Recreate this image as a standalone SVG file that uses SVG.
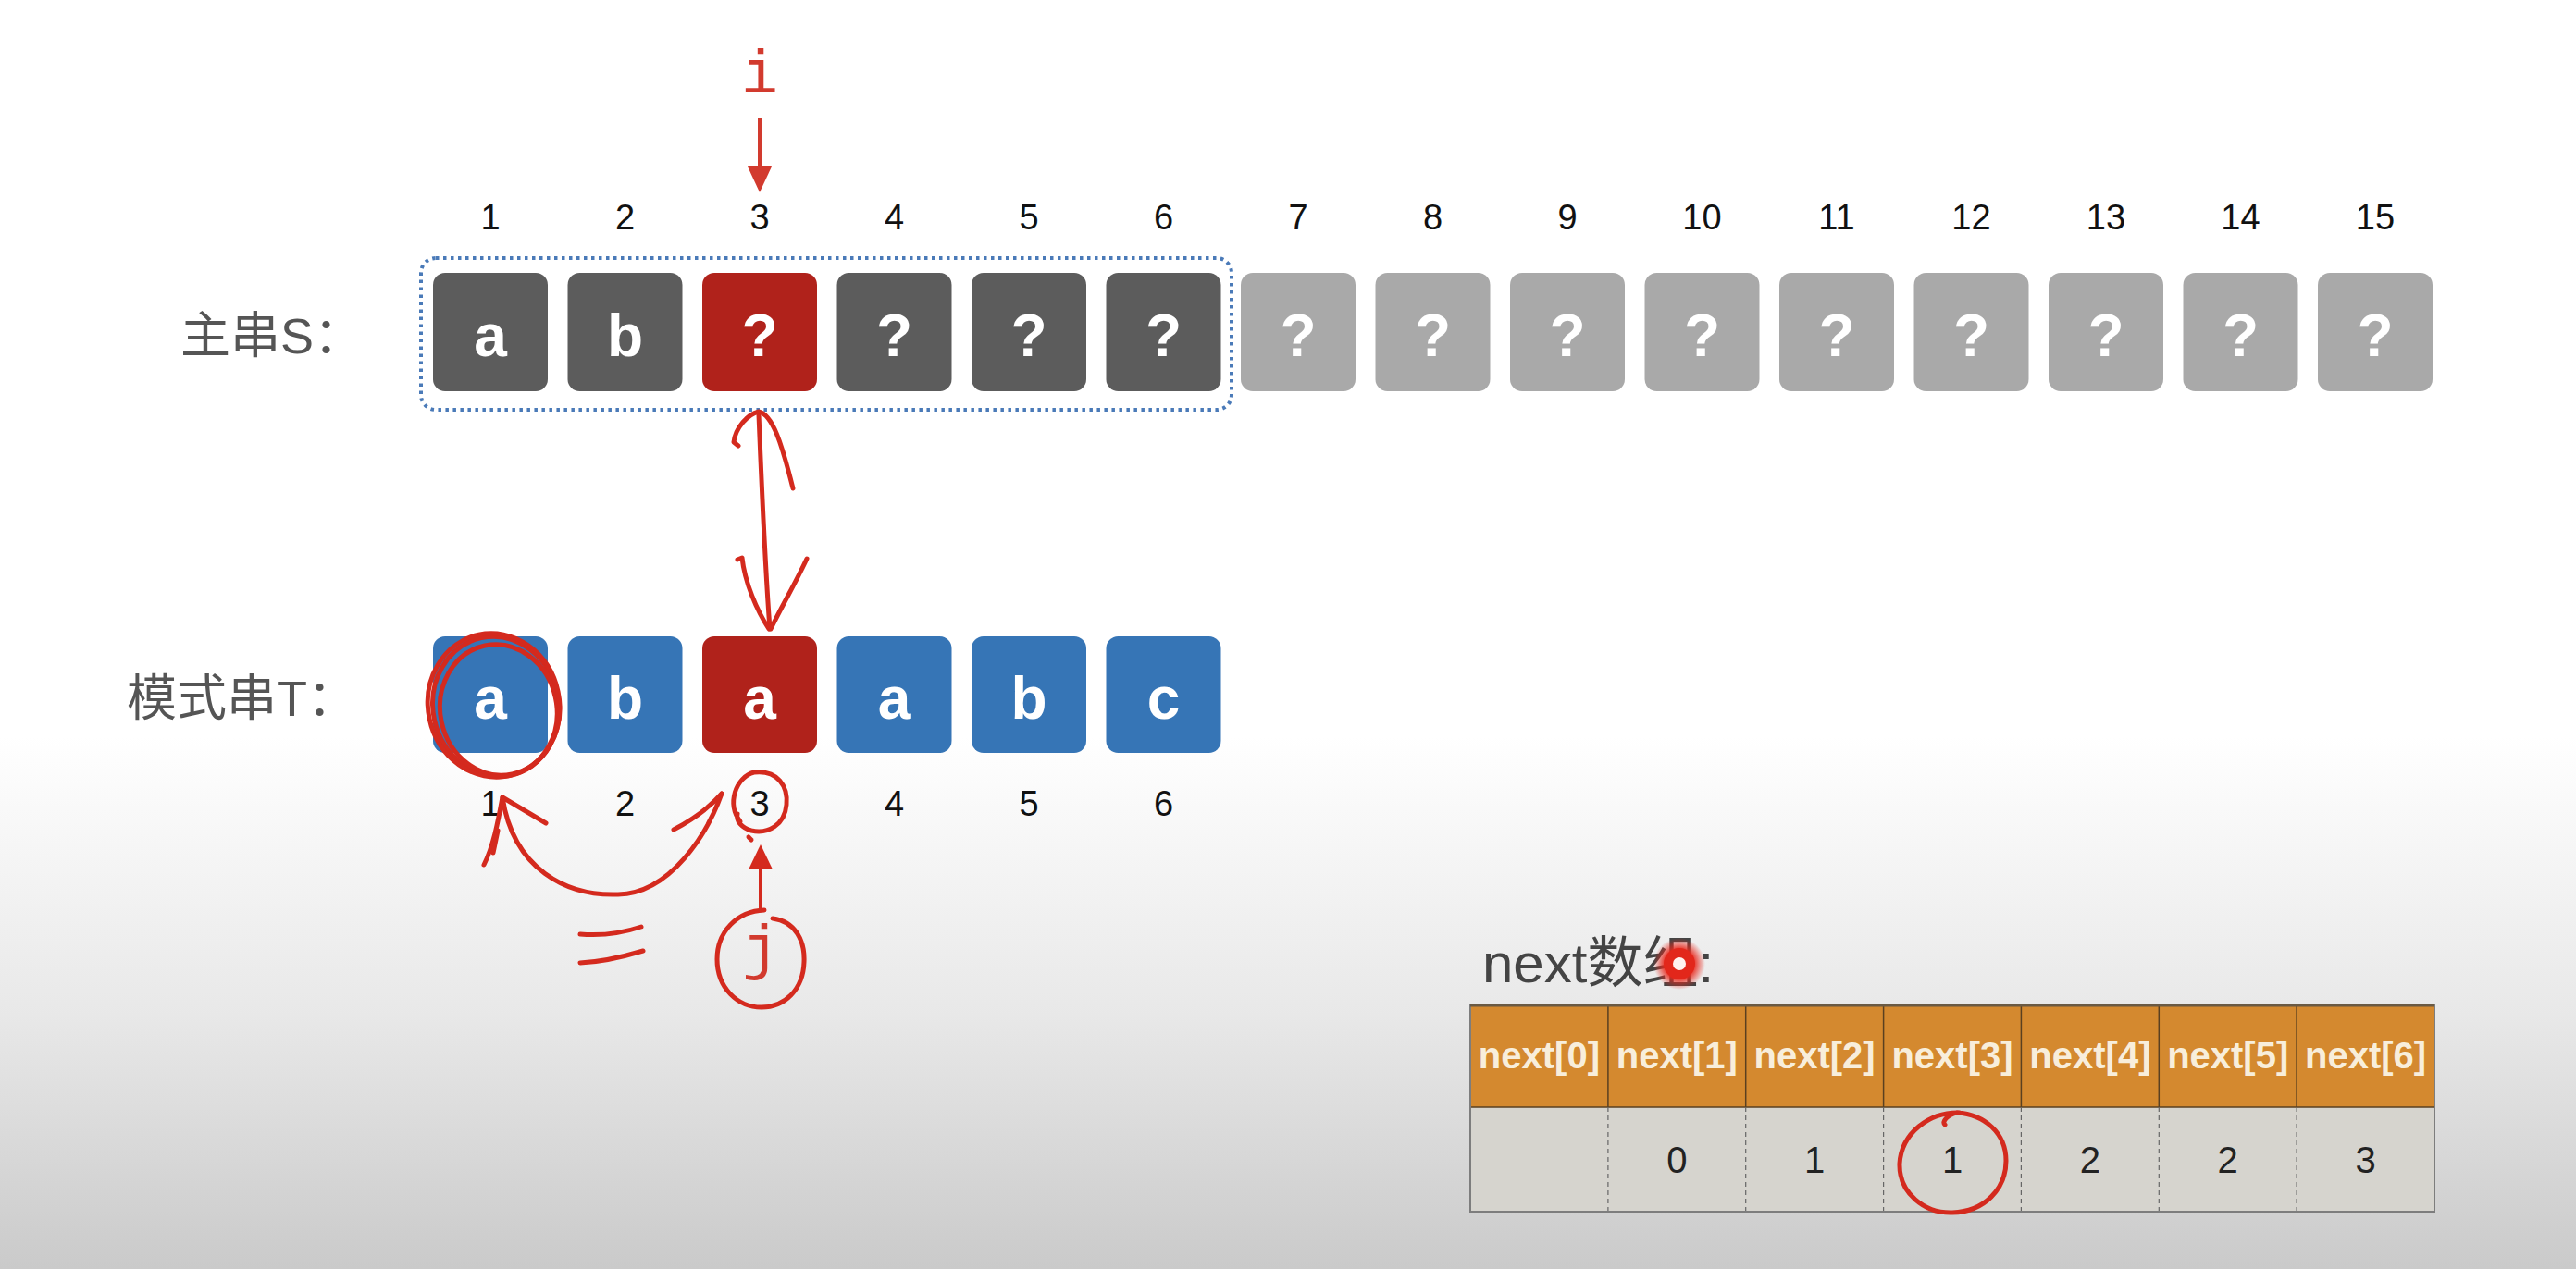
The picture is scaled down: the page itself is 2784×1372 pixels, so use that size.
<svg xmlns="http://www.w3.org/2000/svg" width="2784" height="1372" viewBox="0 0 2784 1372">
<defs>
<linearGradient id="bg" x1="0" y1="0" x2="0" y2="1372" gradientUnits="userSpaceOnUse">
<stop offset="0" stop-color="#ffffff"/>
<stop offset="0.58" stop-color="#ffffff"/>
<stop offset="0.8" stop-color="#e8e8e8"/>
<stop offset="1" stop-color="#cacaca"/>
</linearGradient>
<radialGradient id="glow">
<stop offset="0" stop-color="#e8281c" stop-opacity="1"/>
<stop offset="0.6" stop-color="#e8281c" stop-opacity="0.85"/>
<stop offset="1" stop-color="#e8281c" stop-opacity="0"/>
</radialGradient>
</defs>
<style>
.box{rx:13px;ry:13px}
.dk{fill:#5c5c5c}
.lt{fill:#a9a9a9}
.rd{fill:#b0221b}
.bl{fill:#3675b6}
.ch{font-family:"Liberation Sans",Arial,sans-serif;font-weight:bold;font-size:64px;fill:#ffffff;text-anchor:middle}
.num{font-family:"Liberation Sans",Arial,sans-serif;font-size:38px;fill:#111111;text-anchor:middle}
.lbl{font-family:"Liberation Sans","Noto Sans CJK SC",sans-serif;font-size:54px;fill:#555555}
.cap{font-family:"Liberation Sans","Noto Sans CJK SC",sans-serif;font-size:60px;fill:#444444}
.hd{font-family:"Liberation Sans",Arial,sans-serif;font-weight:bold;font-size:40px;fill:#f8eedb;text-anchor:middle}
.val{font-family:"Liberation Sans",Arial,sans-serif;font-size:40px;fill:#222222;text-anchor:middle}
.pen{fill:none;stroke:#d42a1e;stroke-width:5;stroke-linecap:round;stroke-linejoin:round}
.mono{font-family:"Liberation Mono","Courier New",monospace;font-size:66px;fill:#d23a2e;text-anchor:middle}
</style>
<rect x="0" y="0" width="2784" height="1372" fill="url(#bg)"/>

<!-- labels -->
<text id="label-S" class="lbl" x="195" y="382">主串S：</text>
<text id="label-T" class="lbl" x="137" y="774">模式串T：</text>

<!-- top index numbers -->
<g id="s-index">
<text class="num" x="530" y="248">1</text>
<text class="num" x="675.5" y="248">2</text>
<text class="num" x="821" y="248">3</text>
<text class="num" x="966.5" y="248">4</text>
<text class="num" x="1112" y="248">5</text>
<text class="num" x="1257.5" y="248">6</text>
<text class="num" x="1403" y="248">7</text>
<text class="num" x="1548.5" y="248">8</text>
<text class="num" x="1694" y="248">9</text>
<text class="num" x="1839.5" y="248">10</text>
<text class="num" x="1985" y="248">11</text>
<text class="num" x="2130.5" y="248">12</text>
<text class="num" x="2276" y="248">13</text>
<text class="num" x="2421.5" y="248">14</text>
<text class="num" x="2567" y="248">15</text>
</g>

<!-- main string S -->
<rect id="s-window" x="455" y="279" width="876" height="164" rx="16" fill="none" stroke="#4a7ab8" stroke-width="4" stroke-dasharray="3.5 4.5"/>
<g id="s1"><rect class="box dk" x="468" y="295" width="124" height="128"/><text class="ch" x="530" y="385">a</text></g>
<g id="s2"><rect class="box dk" x="613.5" y="295" width="124" height="128"/><text class="ch" x="675.5" y="385">b</text></g>
<g id="s3"><rect class="box rd" x="759" y="295" width="124" height="128"/><text class="ch" x="821" y="385">?</text></g>
<g id="s4"><rect class="box dk" x="904.5" y="295" width="124" height="128"/><text class="ch" x="966.5" y="385">?</text></g>
<g id="s5"><rect class="box dk" x="1050" y="295" width="124" height="128"/><text class="ch" x="1112" y="385">?</text></g>
<g id="s6"><rect class="box dk" x="1195.5" y="295" width="124" height="128"/><text class="ch" x="1257.5" y="385">?</text></g>
<g id="s7"><rect class="box lt" x="1341" y="295" width="124" height="128"/><text class="ch" x="1403" y="385">?</text></g>
<g id="s8"><rect class="box lt" x="1486.5" y="295" width="124" height="128"/><text class="ch" x="1548.5" y="385">?</text></g>
<g id="s9"><rect class="box lt" x="1632" y="295" width="124" height="128"/><text class="ch" x="1694" y="385">?</text></g>
<g id="s10"><rect class="box lt" x="1777.5" y="295" width="124" height="128"/><text class="ch" x="1839.5" y="385">?</text></g>
<g id="s11"><rect class="box lt" x="1923" y="295" width="124" height="128"/><text class="ch" x="1985" y="385">?</text></g>
<g id="s12"><rect class="box lt" x="2068.5" y="295" width="124" height="128"/><text class="ch" x="2130.5" y="385">?</text></g>
<g id="s13"><rect class="box lt" x="2214" y="295" width="124" height="128"/><text class="ch" x="2276" y="385">?</text></g>
<g id="s14"><rect class="box lt" x="2359.5" y="295" width="124" height="128"/><text class="ch" x="2421.5" y="385">?</text></g>
<g id="s15"><rect class="box lt" x="2505" y="295" width="124" height="128"/><text class="ch" x="2567" y="385">?</text></g>

<!-- pattern T -->
<g id="t1"><rect class="box bl" x="468" y="688" width="124" height="126"/><text class="ch" x="530" y="777">a</text></g>
<g id="t2"><rect class="box bl" x="613.5" y="688" width="124" height="126"/><text class="ch" x="675.5" y="777">b</text></g>
<g id="t3"><rect class="box rd" x="759" y="688" width="124" height="126"/><text class="ch" x="821" y="777">a</text></g>
<g id="t4"><rect class="box bl" x="904.5" y="688" width="124" height="126"/><text class="ch" x="966.5" y="777">a</text></g>
<g id="t5"><rect class="box bl" x="1050" y="688" width="124" height="126"/><text class="ch" x="1112" y="777">b</text></g>
<g id="t6"><rect class="box bl" x="1195.5" y="688" width="124" height="126"/><text class="ch" x="1257.5" y="777">c</text></g>

<g id="t-index">
<text class="num" x="530" y="882">1</text>
<text class="num" x="675.5" y="882">2</text>
<text class="num" x="821" y="882">3</text>
<text class="num" x="966.5" y="882">4</text>
<text class="num" x="1112" y="882">5</text>
<text class="num" x="1257.5" y="882">6</text>
</g>

<!-- next array -->
<g id="next-table">
<text class="cap" x="1602" y="1062">next数组:</text>
<rect x="1589" y="1087" width="1042" height="110" fill="#d4892f"/>
<rect x="1589" y="1197" width="1042" height="113" fill="#d6d4ce"/>
<g stroke="#5a4020" stroke-width="1.5">
<line x1="1737.9" y1="1087" x2="1737.9" y2="1197"/>
<line x1="1886.7" y1="1087" x2="1886.7" y2="1197"/>
<line x1="2035.6" y1="1087" x2="2035.6" y2="1197"/>
<line x1="2184.4" y1="1087" x2="2184.4" y2="1197"/>
<line x1="2333.3" y1="1087" x2="2333.3" y2="1197"/>
<line x1="2482.1" y1="1087" x2="2482.1" y2="1197"/>
<line x1="1589" y1="1197" x2="2631" y2="1197"/>
</g>
<g stroke="#666666" stroke-width="1.2" stroke-dasharray="5 4">
<line x1="1737.9" y1="1197" x2="1737.9" y2="1310"/>
<line x1="1886.7" y1="1197" x2="1886.7" y2="1310"/>
<line x1="2035.6" y1="1197" x2="2035.6" y2="1310"/>
<line x1="2184.4" y1="1197" x2="2184.4" y2="1310"/>
<line x1="2333.3" y1="1197" x2="2333.3" y2="1310"/>
<line x1="2482.1" y1="1197" x2="2482.1" y2="1310"/>
</g>
<rect x="1589" y="1087" width="1042" height="223" fill="none" stroke="#7d7d7d" stroke-width="2"/>
<line x1="1589" y1="1087" x2="2631" y2="1087" stroke="#6a5a44" stroke-width="3"/>
<text class="hd" x="1663.4" y="1155">next[0]</text>
<text class="hd" x="1812.3" y="1155">next[1]</text>
<text class="hd" x="1961.1" y="1155">next[2]</text>
<text class="hd" x="2110" y="1155">next[3]</text>
<text class="hd" x="2258.9" y="1155">next[4]</text>
<text class="hd" x="2407.7" y="1155">next[5]</text>
<text class="hd" x="2556.6" y="1155">next[6]</text>
<text class="val" x="1812.3" y="1268">0</text>
<text class="val" x="1961.1" y="1268">1</text>
<text class="val" x="2110" y="1268">1</text>
<text class="val" x="2258.9" y="1268">2</text>
<text class="val" x="2407.7" y="1268">2</text>
<text class="val" x="2556.6" y="1268">3</text>
</g>

<!-- pointer labels -->
<text id="ptr-i" class="mono" x="821" y="100">i</text>
<g id="ptr-j">
<text class="mono" x="822" y="1046">j</text>
<path class="pen" d="M835,993 C860,996 870,1018 869,1040 C868,1070 848,1089 823,1089 C797,1089 775,1068 775,1037 C775,1007 797,985 826,984"/>
</g>

<!-- connectors -->
<g id="connectors">
<line x1="821" y1="128" x2="821" y2="184" stroke="#d23a2e" stroke-width="4"/>
<polygon points="821,208 808,180 834,180" fill="#d23a2e"/>
<path class="pen" d="M820,448 C823,520 826,600 832,680"/>
<path class="pen" d="M798,482 L793,478 C795,462 808,448 820,445 C835,448 845,480 857,528"/>
<path class="pen" d="M797,605 L802,603 C805,630 818,660 831,680"/>
<path class="pen" d="M872,604 C860,630 845,655 833,680"/>
<path class="pen" d="M780,858 C765,900 725,966 668,967 C612,969 555,940 543,862"/>
<path class="pen" d="M590,890 L543,862 C538,890 533,915 523,935"/>
<path class="pen" d="M538,898 L533,922"/>
<path class="pen" d="M728,897 C745,888 765,875 780,858"/>
<line x1="822" y1="985" x2="822" y2="935" stroke="#d42a1e" stroke-width="4"/>
<polygon points="822,913 809,940 835,940" fill="#d42a1e"/>
</g>

<!-- annotations -->
<g id="annotations">
<g transform="rotate(-12 536 764)">
<ellipse class="pen" cx="536" cy="764" rx="68" ry="76" stroke-width="6"/>
<ellipse class="pen" cx="538" cy="768" rx="63" ry="71" stroke-width="5"/>
<ellipse class="pen" cx="534" cy="762" rx="71" ry="78" stroke-width="4"/>
</g>
<path class="pen" d="M800,888 C785,870 795,840 815,835 C840,832 852,850 850,870 C848,892 830,902 812,898 C802,895 795,888 797,880"/>
<path class="pen" d="M809,905 L812,908"/>
<path class="pen" stroke-width="8" d="M627,1010 C650,1012 675,1008 693,1002"/>
<path class="pen" stroke-width="8" d="M627,1041 C650,1040 675,1034 695,1028"/>
<path class="pen" d="M2118,1203 C2085,1202 2055,1225 2053,1258 C2052,1290 2080,1312 2110,1311 C2145,1310 2168,1285 2168,1255 C2168,1225 2145,1205 2115,1203 C2105,1205 2098,1213 2102,1216"/>
<g id="pointer-dot">
<circle cx="1815" cy="1042" r="28" fill="url(#glow)"/>
<circle cx="1815" cy="1042" r="17" fill="#e2271b"/>
<circle cx="1815" cy="1042" r="7" fill="#fff3f0"/>
</g>
</g>
</svg>
